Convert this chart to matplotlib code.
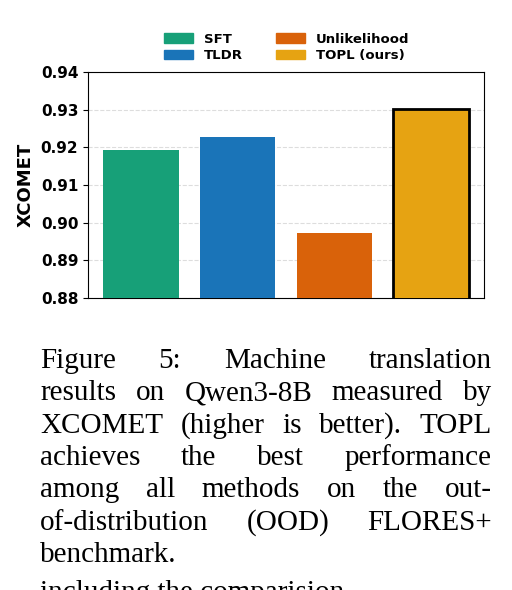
import matplotlib
matplotlib.use("Agg")
import matplotlib.pyplot as plt
import matplotlib.patches as mp

methods = ["SFT", "TLDR", "Unlikelihood", "TOPL (ours)"]
scores = [0.9193, 0.9227, 0.8973, 0.9302]
colors = ["#17a078", "#1a74b8", "#d9620a", "#e6a312"]
yticks = [0.88, 0.89, 0.90, 0.91, 0.92, 0.93, 0.94]

fig = plt.figure(figsize=(5.12, 5.9), dpi=100)
ax = fig.add_axes([88/512, 1-298/590, 396/512, 226/590])
x = range(len(methods))
bars = ax.bar(x, scores, width=0.78, color=colors, zorder=3)
bars[3].set_edgecolor("black"); bars[3].set_linewidth(2)
ax.set_ylim(0.88, 0.94)
ax.set_xlim(-0.55, 3.55)
ax.set_yticks(yticks)
ax.set_yticklabels([f"{v:.2f}" for v in yticks], fontsize=11, fontweight="bold")
ax.set_xticks([])
ax.set_ylabel("XCOMET", fontsize=13, fontweight="bold")
ax.grid(axis="y", linestyle="--", color="#dddddd", linewidth=0.8, zorder=0)
hs = [mp.Patch(color=c) for c in colors]
fig.legend(hs, methods, ncol=2, loc="upper center", bbox_to_anchor=(0.56, 0.965),
           frameon=False, prop={"weight": "bold", "size": 9.5}, columnspacing=2.5,
           handlelength=2.2, labelspacing=0.3)

lines = [("Figure 5:  Machine translation", True),
         ("results on Qwen3-8B measured by", True),
         ("XCOMET (higher is better).  TOPL", True),
         ("achieves the best performance", True),
         ("among all methods on the out-", True),
         ("of-distribution (OOD) FLORES+", True),
         ("benchmark.", False)]
fs = 21
fam = "Liberation Serif"
renderer = fig.canvas.get_renderer()
x0, x1 = 40, 492
for i, (line, just) in enumerate(lines):
    ypx = 368 + i * 32.3
    yf = 1 - ypx / 590
    words = line.split()
    if not just:
        fig.text(x0/512, yf, line, fontsize=fs, family=fam, va="baseline")
        continue
    ts = [fig.text(0, yf, w, fontsize=fs, family=fam, va="baseline") for w in words]
    ws = [t.get_window_extent(renderer).width for t in ts]
    gap = (x1 - x0 - sum(ws)) / (len(words) - 1)
    cur = x0
    for t, w in zip(ts, ws):
        t.set_x(cur / 512)
        cur += w + gap
fig.text(x0/512, 1 - 600/590, "including the comparision", fontsize=fs, family=fam, va="baseline")
fig.savefig("out.png", dpi=100)
